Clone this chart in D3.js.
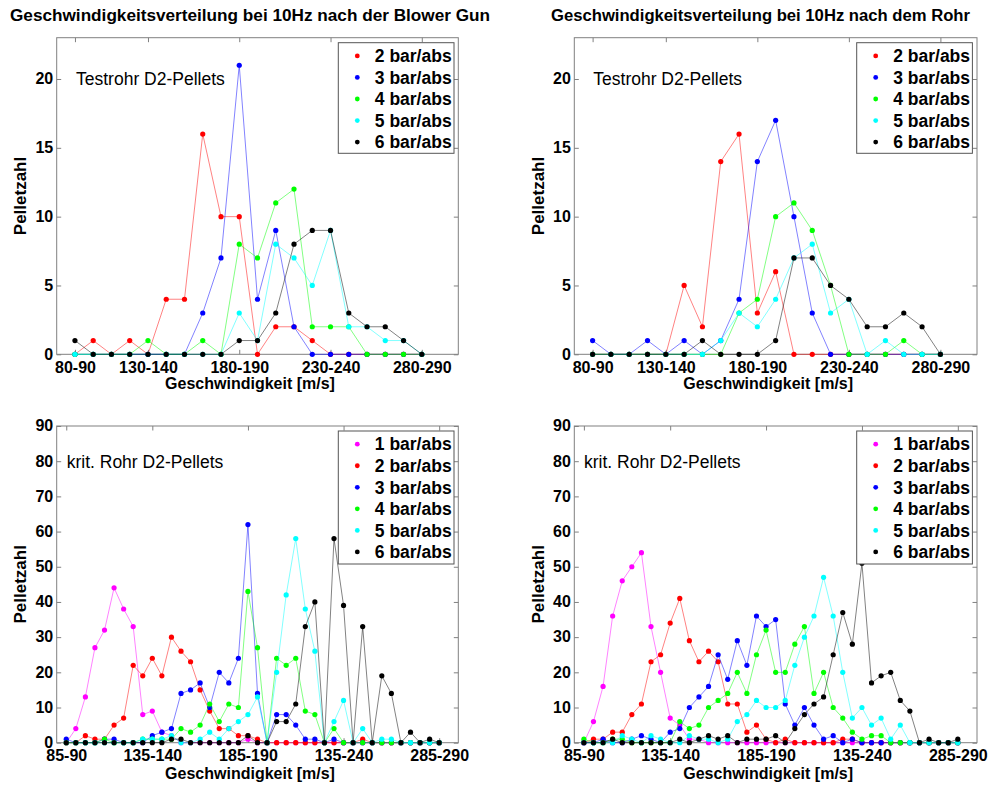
<!DOCTYPE html>
<html>
<head>
<meta charset="utf-8">
<script src="https://cdn.jsdelivr.net/npm/d3@7"></script>
<style>
  body { margin: 0; background: #fff; }
  svg { display: block; font-family: "Liberation Sans", Arial, sans-serif; }
</style>
</head>
<body>
<svg id="chart" width="1003" height="785"></svg>
<script>
// ---- speed classes (x axis) ----
const testTickPos = [1, 5, 10, 15, 20];
const testTickLabels = ["80-90", "130-140", "180-190", "230-240", "280-290"];
const critTickPos = [1, 10, 20, 30, 40];
const critTickLabels = ["85-90", "135-140", "185-190", "135-240", "285-290"];

// ---- y ticks ----
const testYTicks = [0, 5, 10, 15, 20];
const critYTicks = [0, 10, 20, 30, 40, 50, 60, 70, 80, 90];

// ---- pressure series ----
const pressureLabels = ["1 bar/abs", "2 bar/abs", "3 bar/abs", "4 bar/abs", "5 bar/abs", "6 bar/abs"];
const pressureColors = ["#ff00ff", "#ff0000", "#0000ff", "#00ff00", "#00ffff", "#000000"];

// Testrohr, after the blower gun (10 m/s classes)
const gunTest2 = [0,1,0,1,0,4,4,16,10,10,0,2,2,1,0,0,0,0,0,0];
const gunTest3 = [0,0,0,0,0,0,0,3,7,21,4,9,2,0,0,0,0,0,0,0];
const gunTest4 = [0,0,0,0,1,0,0,1,0,8,7,11,12,2,2,2,0,0,0,0];
const gunTest5 = [0,0,0,0,0,0,0,0,0,3,1,8,7,5,9,2,2,1,1,0];
const gunTest6 = [1,0,0,0,0,0,0,0,0,1,1,3,8,9,9,3,2,2,1,0];

// Testrohr, after the tube
const tubeTest2 = [0,0,0,0,0,5,2,14,16,3,6,0,0,0,0,0,0,0,0,0];
const tubeTest3 = [1,0,0,1,0,1,0,1,4,14,17,10,3,0,0,0,0,0,0,0];
const tubeTest4 = [0,0,0,0,0,0,0,0,3,4,10,11,9,5,0,0,0,1,0,0];
const tubeTest5 = [0,0,0,0,0,0,0,1,3,2,4,7,8,3,4,0,1,0,0,0];
const tubeTest6 = [0,0,0,0,0,0,1,0,0,0,1,7,7,5,4,2,2,3,2,0];

// krit. Rohr, after the blower gun (5 m/s classes)
const gunCrit1 = [0,4,13,27,32,44,38,33,8,9,3,2,0,0,0,0,0,0,0,1,0,0,0,0,0,0,0,0,0,0,0,0,0,0,0,0,0,0,0,0];
const gunCrit2 = [0,0,2,1,1,5,7,22,19,24,19,30,26,23,15,9,4,4,2,2,1,0,0,0,0,0,0,0,0,0,0,1,0,0,0,0,0,0,0,0];
const gunCrit3 = [1,0,0,0,1,1,0,0,0,2,3,4,14,15,17,10,20,17,24,62,14,0,8,8,5,1,1,0,1,0,0,0,0,0,0,0,0,0,0,0];
const gunCrit4 = [0,0,0,0,1,0,0,0,1,1,1,1,4,3,5,11,6,11,10,43,27,0,24,22,24,9,8,0,4,0,0,0,0,0,0,0,0,0,0,0];
const gunCrit5 = [0,0,0,0,0,0,0,0,1,1,1,2,0,0,1,3,1,4,6,8,13,0,20,42,58,38,26,0,6,12,0,4,0,1,1,0,0,0,0,0];
const gunCrit6 = [0,0,0,0,0,0,0,0,0,0,0,1,1,0,0,0,0,0,0,2,0,0,6,6,11,33,40,0,58,39,0,33,0,19,14,0,3,0,1,0];

// krit. Rohr, after the tube
const tubeCrit1 = [0,6,16,36,46,50,54,33,20,7,5,1,1,0,0,0,0,0,0,0,0,0,0,0,0,0,0,0,0,0,0,0,0,0,0,0,0,0,0,0];
const tubeCrit2 = [0,1,1,3,3,8,11,23,25,34,41,29,23,26,23,11,11,3,5,1,0,1,0,0,0,0,0,1,1,0,0,0,0,0,0,0,0,0,0,0];
const tubeCrit3 = [0,0,1,0,0,1,2,1,0,3,4,10,13,16,25,18,29,22,36,33,35,11,5,10,5,1,2,0,1,0,0,0,0,0,0,0,0,0,0,0];
const tubeCrit4 = [1,0,0,1,1,0,0,0,0,0,6,4,5,10,12,14,20,14,25,32,20,20,28,33,14,20,10,7,3,1,2,2,0,0,0,0,0,0,0,0];
const tubeCrit5 = [0,0,0,0,2,1,0,2,1,0,0,2,1,1,0,1,6,8,12,10,10,12,22,30,36,47,36,20,7,10,5,7,1,5,0,0,0,0,0,0];
const tubeCrit6 = [0,0,0,1,0,0,0,0,0,0,1,0,1,2,1,2,0,1,1,1,2,0,4,8,11,13,25,37,28,51,17,19,20,12,9,0,1,0,0,1];

const titles = [
  "Geschwindigkeitsverteilung bei 10Hz nach der Blower Gun",
  "Geschwindigkeitsverteilung bei 10Hz nach dem Rohr"
];
const xAxisTitle = "Geschwindigkeit [m/s]";
const yAxisTitle = "Pelletzahl";
const testNote = "Testrohr D2-Pellets";
const critNote = "krit. Rohr D2-Pellets";

const svg = d3.select("#chart");
const AXIS = "#808080";

// ---- panel layout ----
const colLeft = [56.7, 574.3];
const colRight = [458.3, 977];
const topRow = { top: 37.7, bottom: 354.3, xmax: 22, ymax: 23, tickPad: 7,
  legendTop: 42.7, legendH: 110.6, noteY: 85, xlabelY: 389 };
const botRow = { top: 426, bottom: 742.7, xmax: 42, ymax: 90, tickPad: 7.2,
  legendTop: 431, legendH: 133, noteY: 468.3, xlabelY: 779 };

const panels = [
  { row: topRow, col: 0, series: [null, gunTest2, gunTest3, gunTest4, gunTest5, gunTest6],
    ticks: testTickPos, tickLabels: testTickLabels, yTicks: testYTicks, note: testNote, noteX: 76 },
  { row: topRow, col: 1, series: [null, tubeTest2, tubeTest3, tubeTest4, tubeTest5, tubeTest6],
    ticks: testTickPos, tickLabels: testTickLabels, yTicks: testYTicks, note: testNote, noteX: 593.3 },
  { row: botRow, col: 0, series: [gunCrit1, gunCrit2, gunCrit3, gunCrit4, gunCrit5, gunCrit6],
    ticks: critTickPos, tickLabels: critTickLabels, yTicks: critYTicks, note: critNote, noteX: 66.7 },
  { row: botRow, col: 1, series: [tubeCrit1, tubeCrit2, tubeCrit3, tubeCrit4, tubeCrit5, tubeCrit6],
    ticks: critTickPos, tickLabels: critTickLabels, yTicks: critYTicks, note: critNote, noteX: 584 }
];

function styleAxis(sel) {
  sel.select(".domain").remove();
  sel.selectAll(".tick line").attr("stroke", AXIS);
  sel.selectAll(".tick text")
    .attr("fill", "#000")
    .style("font-size", "16px")
    .style("font-weight", "bold")
    .style("font-family", "'Liberation Sans', Arial, sans-serif");
}

panels.forEach(p => {
  const r = p.row;
  const L = colLeft[p.col], R = colRight[p.col];
  const x = d3.scaleLinear().domain([0, r.xmax]).range([L, R]);
  const y = d3.scaleLinear().domain([0, r.ymax]).range([r.bottom, r.top]);
  const g = svg.append("g");

  // axes: inward ticks on all four sides, labels left and bottom
  g.append("g").attr("transform", `translate(${L},0)`)
    .call(d3.axisLeft(y).tickValues(p.yTicks).tickSizeInner(-4.5).tickSizeOuter(0).tickPadding(3.5))
    .call(styleAxis)
    .call(a => a.selectAll(".tick text").attr("dy", "0.3em"));
  g.append("g").attr("transform", `translate(${R},0)`)
    .call(d3.axisRight(y).tickValues(p.yTicks).tickSizeInner(-4.5).tickSizeOuter(0).tickFormat(""))
    .call(styleAxis);
  g.append("g").attr("transform", `translate(0,${r.top})`)
    .call(d3.axisTop(x).tickValues(p.ticks).tickSizeInner(-4.5).tickSizeOuter(0).tickFormat(""))
    .call(styleAxis);
  g.append("g").attr("transform", `translate(0,${r.bottom})`)
    .call(d3.axisBottom(x).tickValues(p.ticks).tickSizeInner(-4.5).tickSizeOuter(0)
      .tickPadding(r.tickPad).tickFormat((d, i) => p.tickLabels[i]))
    .call(styleAxis);
  g.append("rect")
    .attr("x", L).attr("y", r.top).attr("width", R - L).attr("height", r.bottom - r.top)
    .attr("fill", "none").attr("stroke", AXIS).attr("stroke-width", 1);

  // series: thin line plus dot markers
  const line = d3.line().x((d, i) => x(i + 1)).y(d => y(d));
  p.series.forEach((vals, k) => {
    if (!vals) return;
    const s = g.append("g");
    s.append("path").datum(vals).attr("d", line)
      .attr("fill", "none").attr("stroke", pressureColors[k])
      .attr("stroke-width", 0.9).attr("stroke-opacity", 0.55);
    s.selectAll("circle").data(vals).join("circle")
      .attr("cx", (d, i) => x(i + 1)).attr("cy", d => y(d)).attr("r", 2.6)
      .attr("fill", pressureColors[k]);
  });

  // annotation
  g.append("text").attr("x", p.noteX).attr("y", r.noteY)
    .style("font-size", "17.5px").text(p.note);

  // legend
  const keys = p.series.map((v, k) => v ? k : -1).filter(k => k >= 0);
  const lgX = L + (p.col === 0 ? 281.6 : 282.4);
  const lgW = 115.7;
  const lg = g.append("g");
  lg.append("rect").attr("x", lgX).attr("y", r.legendTop)
    .attr("width", lgW).attr("height", r.legendH)
    .attr("fill", "#fff").attr("stroke", "#555").attr("stroke-width", 1);
  const rowH = 21.55;
  const firstRow = r.legendTop + 13.2;
  keys.forEach((k, j) => {
    const cy = firstRow + j * rowH;
    lg.append("circle").attr("cx", lgX + 19).attr("cy", cy).attr("r", 2.4)
      .attr("fill", pressureColors[k]);
    lg.append("text").attr("x", lgX + 36.5).attr("y", cy + 6.2)
      .style("font-size", "17.5px").style("font-weight", "bold").text(pressureLabels[k]);
  });

  // axis titles
  g.append("text").attr("x", (L + R) / 2 - 7.5).attr("y", r.xlabelY)
    .attr("text-anchor", "middle").style("font-size", "16px").style("font-weight", "bold")
    .text(xAxisTitle);
  const yc = (r.top + r.bottom) / 2;
  const yx = p.col === 0 ? 20 : 538;
  g.append("text").attr("transform", `translate(${yx + 6},${yc}) rotate(-90)`)
    .attr("text-anchor", "middle").style("font-size", "17px").style("font-weight", "bold")
    .text(yAxisTitle);
});

// panel titles
const titleSpan = [[10, 490], [551, 970]];
titles.forEach((t, i) => {
  svg.append("text").attr("x", titleSpan[i][0]).attr("y", 21)
    .attr("textLength", titleSpan[i][1] - titleSpan[i][0]).attr("lengthAdjust", "spacingAndGlyphs")
    .style("font-size", "16px").style("font-weight", "bold").text(t);
});
</script>
</body>
</html>
